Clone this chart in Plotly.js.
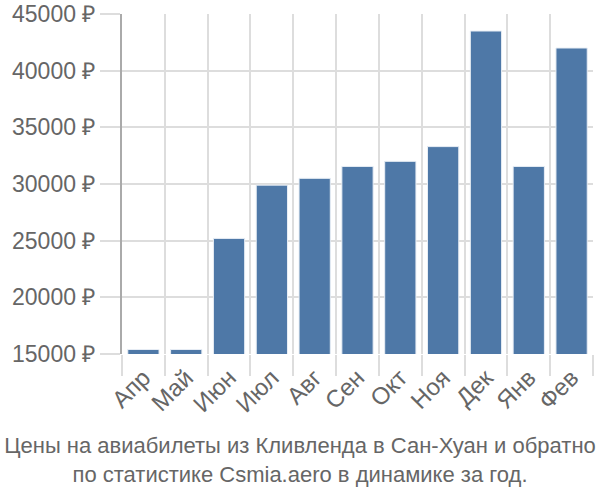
<!DOCTYPE html>
<html><head><meta charset="utf-8">
<script src="https://cdn.plot.ly/plotly-3.0.1.min.js"></script>
<style>body{margin:0;}#c{width:600px;height:500px;}</style>
</head><body><div id="c"></div>
<script>
const months = ["Апр","Май","Июн","Июл","Авг","Сен","Окт","Ноя","Дек","Янв","Фев"];
const prices = [15400, 15400, 25200, 29900, 30500, 31550, 32000, 33300, 43500, 31550, 42000];
const yTicks = [15000, 20000, 25000, 30000, 35000, 40000, 45000];
const yTickLabels = yTicks.map(v => v + " ₽");
const titleText = "Цены на авиабилеты из Кливленда в Сан-Хуан и обратно<br>по статистике Csmia.aero в динамике за год.";

Plotly.newPlot("c", [{
  type: "bar",
  x: months,
  y: prices,
  marker: {color: "#4e78a7", line: {color: "#e8eef5", width: 1}},
  hoverinfo: "none"
}], {
  width: 600, height: 500,
  margin: {l: 122, r: 7, t: 14, b: 146},
  paper_bgcolor: "#fff", plot_bgcolor: "#fff",
  bargap: 0.27,
  font: {family: "Liberation Sans, Arial, sans-serif", color: "#666", size: 22},
  title: {text: titleText, x: 0.5, xanchor: "center", y: 0.094, yanchor: "middle", yref: "container",
          font: {family: "Liberation Sans, Arial, sans-serif", size: 22, color: "#666"}},
  xaxis: {
    type: "category", tickson: "boundaries", ticks: "outside", ticklen: 21, tickcolor: "#ddd", tickwidth: 2,
    showgrid: true, gridcolor: "#ddd", gridwidth: 2, tickangle: -45, automargin: false, ticklabelstandoff: 4,
    tickfont: {size: 24, color: "#666"}, showline: false, zeroline: false
  },
  yaxis: {
    range: [15000, 45000], tickvals: yTicks, ticktext: yTickLabels,
    ticks: "outside", ticklen: 20, tickcolor: "#ddd", tickwidth: 2,
    showgrid: true, gridcolor: "#ddd", gridwidth: 2,
    showline: true, linecolor: "#aaa", linewidth: 2, zeroline: false,
    tickfont: {size: 23, color: "#666"}
  },
  showlegend: false
}, {staticPlot: true});
</script></body></html>
